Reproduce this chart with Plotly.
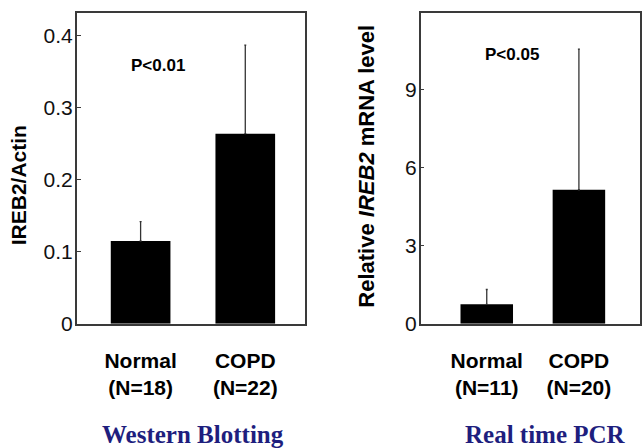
import plotly.graph_objects as go

# Western blotting panel
wb_groups = ["Normal<br>(N=18)", "COPD<br>(N=22)"]
wb_means = [0.115, 0.264]
wb_err = [0.027, 0.123]

# Real time PCR panel
pcr_groups = ["Normal<br>(N=11)", "COPD<br>(N=20)"]
pcr_means = [0.75, 5.15]
pcr_err = [0.57, 5.40]

wb_yticks = [0, 0.1, 0.2, 0.3, 0.4]
wb_yticktext = ["0", "0.1", "0.2", "0.3", "0.4"]
pcr_yticks = [0, 3, 6, 9]

W, H = 642, 448
axis_color = "#3a3a3a"
title_color = "#1e1e7e"
sans = "Liberation Sans, Arial, sans-serif"
serif = "Liberation Serif, Times New Roman, serif"

fig = go.Figure()
pos = [0, 1]
fig.add_trace(go.Bar(
    x=pos, y=wb_means, width=0.57,
    marker=dict(color="black", line=dict(color="black", width=0)),
    error_y=dict(type="data", array=wb_err, arrayminus=[0, 0], symmetric=False,
                 color="#333333", thickness=1.3, width=1),
    xaxis="x", yaxis="y", showlegend=False))
fig.add_trace(go.Bar(
    x=pos, y=pcr_means, width=0.57,
    marker=dict(color="black", line=dict(color="black", width=0)),
    error_y=dict(type="data", array=pcr_err, arrayminus=[0, 0], symmetric=False,
                 color="#333333", thickness=1.3, width=1),
    xaxis="x2", yaxis="y2", showlegend=False))

common_x = dict(showline=True, linecolor=axis_color, linewidth=1.5, mirror=True,
                showgrid=False, zeroline=False, ticks="", tickvals=pos,
                tickfont=dict(family=sans, size=21, color="black"),
                ticklabelstandoff=17)
common_y = dict(showline=True, linecolor=axis_color, linewidth=1.5, mirror=True,
                showgrid=False, zeroline=False, ticks="inside", ticklen=4,
                tickcolor=axis_color,
                tickfont=dict(family=sans, size=21, color="#111111"))

fig.update_layout(
    width=W, height=H,
    margin=dict(l=0, r=0, t=0, b=0),
    paper_bgcolor="white", plot_bgcolor="white",
    barmode="overlay",
    xaxis=dict(domain=[77 / W, 306 / W], range=[-0.61, 1.571], anchor="y",
               ticktext=[f"<b>{g}</b>" for g in wb_groups], **common_x),
    yaxis=dict(domain=[(H - 332) / H, (H - 13) / H], range=[0, 0.432], anchor="x",
               tickvals=wb_yticks, ticktext=wb_yticktext, ticklabelstandoff=-2, **common_y),
    xaxis2=dict(domain=[422 / W, 1.0], range=[-0.717, 1.663], anchor="y2",
                ticktext=[f"<b>{g}</b>" for g in pcr_groups], **common_x),
    yaxis2=dict(domain=[(H - 332) / H, (H - 13) / H], range=[0, 11.95], anchor="x2",
                tickvals=pcr_yticks, ticklabelstandoff=-2, **common_y),
)

anns = [
    dict(text="<b>P<0.01</b>", x=0.17, y=0.358, xref="x", yref="y",
         font=dict(family=sans, size=17, color="black")),
    dict(text="<b>P<0.05</b>", x=0.277, y=10.33, xref="x2", yref="y2",
         font=dict(family=sans, size=17, color="black")),
    dict(text="<b>IREB2/Actin</b>", x=18 / W, y=(H - 190) / H, xref="paper", yref="paper",
         textangle=-90, font=dict(family=sans, size=21, color="black")),
    dict(text="<b>Relative <i>IREB2</i> mRNA level</b>", x=368 / W, y=(H - 170) / H,
         xref="paper", yref="paper", textangle=-90,
         font=dict(family=sans, size=22, color="black")),
    dict(text="<b>Western Blotting</b>", x=194 / W, y=(H - 445) / H, xref="paper", yref="paper",
         font=dict(family=serif, size=25, color=title_color)),
    dict(text="<b>Real time PCR</b>", x=547 / W, y=(H - 445) / H, xref="paper", yref="paper",
         font=dict(family=serif, size=25, color=title_color)),
]
for a in anns:
    a.update(showarrow=False, xanchor="center", yanchor="middle")
fig.update_layout(annotations=anns)

fig.write_html("out.html", config={"displayModeBar": False},
               post_script="document.body.style.margin='0';document.body.style.overflow='hidden';")
